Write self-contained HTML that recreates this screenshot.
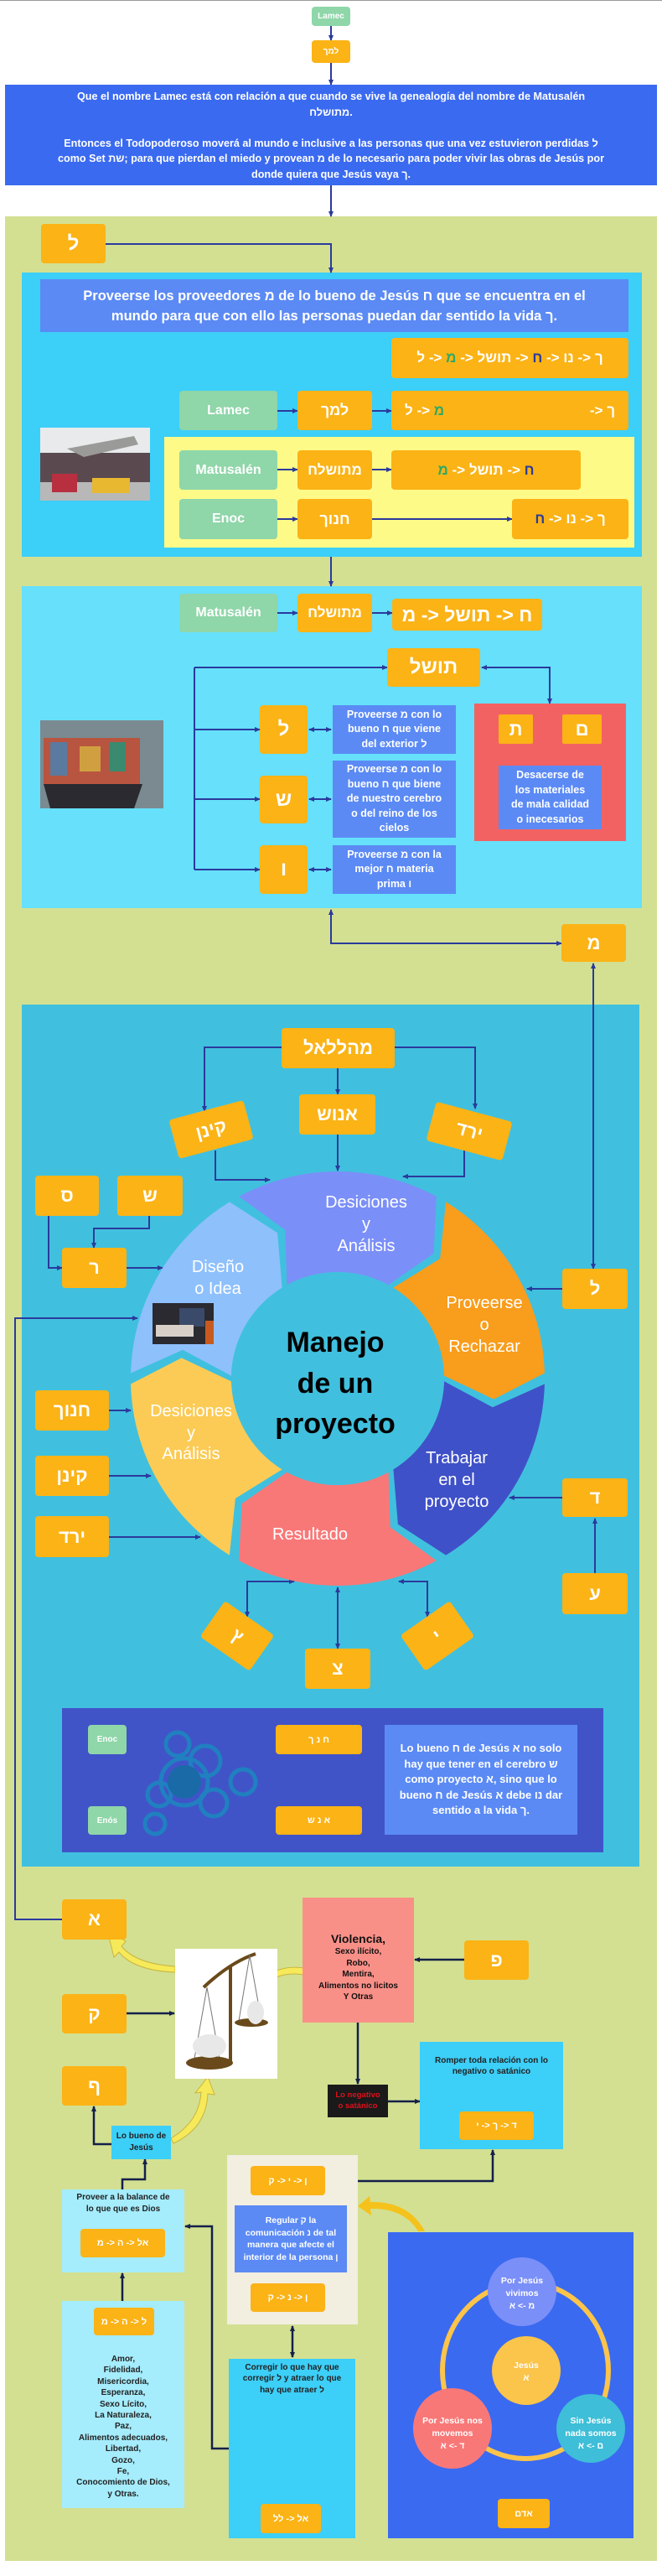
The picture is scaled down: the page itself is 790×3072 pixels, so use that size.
<!DOCTYPE html>
<html><head><meta charset="utf-8">
<style>
*{margin:0;padding:0;box-sizing:border-box}
body{width:790px;height:3072px;position:relative;background:#fff;font-family:"Liberation Sans","DejaVu Sans",sans-serif;overflow:hidden}
.a{position:absolute}
.o{position:absolute;background:#fbb316;border-radius:4px;color:#fff;font-weight:bold;display:flex;align-items:center;justify-content:center;text-align:center;white-space:nowrap}
.g{position:absolute;background:#8fd6a9;border-radius:4px;color:#fff;font-weight:bold;display:flex;align-items:center;justify-content:center}
.b{position:absolute;background:#5b8af5;color:#fff;font-weight:bold;display:flex;align-items:center;justify-content:center;text-align:center}
.h{display:inline-block}
.gm{color:#2fa866}
.dh{color:#2c3a9a}
svg{position:absolute;left:0;top:0}
</style></head><body>
<div class="a" style="left:0;top:0;width:790px;height:1px;background:#999"></div>
<div class="a" style="left:6px;top:258px;width:778px;height:2796px;background:#d3e092"></div>
<div class="a" style="left:26px;top:325px;width:740px;height:339px;background:#3ccff8"></div>
<div class="a" style="left:196px;top:521px;width:561px;height:132px;background:#fdfa88"></div>
<div class="a" style="left:26px;top:699px;width:740px;height:384px;background:#66e0fb"></div>
<div class="a" style="left:26px;top:1198px;width:737px;height:1028px;background:#40c0de"></div>
<div class="a" style="left:74px;top:2037px;width:646px;height:172px;background:#4054c8"></div>

<svg width="790" height="3072" viewBox="0 0 790 3072">
<defs>
<marker id="m" markerWidth="8" markerHeight="8" refX="6" refY="4" orient="auto-start-reverse" markerUnits="userSpaceOnUse"><path d="M0,1 L7,4 L0,7 Z" fill="#2b3a9c"/></marker>
<marker id="n" markerWidth="8" markerHeight="8" refX="6" refY="4" orient="auto-start-reverse" markerUnits="userSpaceOnUse"><path d="M0,1 L7,4 L0,7 Z" fill="#14204a"/></marker>
</defs>
<g fill="none" stroke="#2b3a9c" stroke-width="2">
<path d="M395,31V48" marker-end="url(#m)"/>
<path d="M395,75V101" marker-end="url(#m)"/>
<path d="M395,221V258" marker-end="url(#m)"/>
<path d="M126,291H395V325" marker-end="url(#m)"/>
<path d="M331,490H355" marker-end="url(#m)"/>
<path d="M444,490H467" marker-end="url(#m)"/>
<path d="M331,560H355" marker-end="url(#m)"/>
<path d="M444,560H467" marker-end="url(#m)"/>
<path d="M331,619H355" marker-end="url(#m)"/>
<path d="M444,619H611" marker-end="url(#m)"/>
<path d="M395,664V699" marker-end="url(#m)"/>
<path d="M331,731H355" marker-end="url(#m)"/>
<path d="M444,731H468" marker-end="url(#m)"/>
<path d="M232,796V1037"/>
<path d="M232,796H462" marker-end="url(#m)"/>
<path d="M232,870H310" marker-end="url(#m)"/>
<path d="M232,953H310" marker-end="url(#m)"/>
<path d="M232,1037H310" marker-end="url(#m)"/>
<path d="M369,870H395" marker-start="url(#m)" marker-end="url(#m)"/>
<path d="M369,953H395" marker-start="url(#m)" marker-end="url(#m)"/>
<path d="M369,1037H395" marker-start="url(#m)" marker-end="url(#m)"/>
<path d="M575,796H656V839" marker-start="url(#m)" marker-end="url(#m)"/>
<path d="M638,870H669" marker-start="url(#m)" marker-end="url(#m)"/>
<path d="M694,889V911" marker-start="url(#m)" marker-end="url(#m)"/>
<path d="M395,1085V1125H670" marker-start="url(#m)" marker-end="url(#m)"/>
<path d="M708,1149V1513" marker-start="url(#m)" marker-end="url(#m)"/>
<path d="M336,1249H244V1325" marker-end="url(#m)"/>
<path d="M471,1249H567V1322" marker-end="url(#m)"/>
<path d="M403,1274V1305" marker-end="url(#m)"/>
<path d="M403,1353V1396" marker-end="url(#m)"/>
<path d="M257,1372V1407H322" marker-end="url(#m)"/>
<path d="M554,1372V1403H481" marker-end="url(#m)"/>
<path d="M58,1450V1512H74" marker-end="url(#m)"/>
<path d="M178,1450V1465H112V1488" marker-end="url(#m)"/>
<path d="M151,1512H194" marker-end="url(#m)"/>
<path d="M629,1537H671" marker-start="url(#m)"/>
<path d="M74,2289H18V1572H164" marker-end="url(#m)"/>
<path d="M130,1682H156" marker-end="url(#m)"/>
<path d="M130,1760H180" marker-end="url(#m)"/>
<path d="M130,1833H239" marker-end="url(#m)"/>
<path d="M671,1786H608" marker-end="url(#m)"/>
<path d="M710,1876V1811" marker-end="url(#m)"/>
<path d="M403,1893V1966" marker-start="url(#m)" marker-end="url(#m)"/>
<path d="M351,1886H295V1928" marker-start="url(#m)" marker-end="url(#m)"/>
<path d="M476,1886H510V1928" marker-start="url(#m)" marker-end="url(#m)"/>
</g>
<g fill="none" stroke="#14204a" stroke-width="2.5">
<path d="M554,2337H495" marker-end="url(#n)"/>
<path d="M151,2401H208" marker-end="url(#n)"/>
<path d="M427,2412V2485" marker-end="url(#n)"/>
<path d="M463,2506H501" marker-end="url(#n)"/>
<path d="M133,2557H112V2512" marker-end="url(#n)"/>
<path d="M146,2611V2599H173V2575" marker-end="url(#n)"/>
<path d="M146,2744V2711" marker-end="url(#n)"/>
<path d="M273,2920H253V2655H221" marker-end="url(#n)"/>
<path d="M349,2774V2811" marker-start="url(#n)" marker-end="url(#n)"/>
<path d="M388,2601H588V2564" marker-end="url(#n)"/>
</g>
<g fill="#f7ea5a" stroke="#c8b440" stroke-width="1">
<path d="M209,2352 Q160,2350 142,2328 L136,2334 L128,2302 L150,2315 L145,2321 Q162,2342 209,2345 Z"/>
<path d="M363,2355 Q330,2350 315,2370 L322,2374 L303,2384 L306,2362 L311,2366 Q328,2342 363,2347 Z"/>
<path d="M204,2550 Q238,2530 240,2495 L233,2496 L248,2477 L256,2498 L248,2497 Q246,2538 207,2556 Z"/>
</g>
<path d="M499,2661 Q482,2633 442,2634 L443,2642 L427,2631 L441,2619 L442,2626 Q488,2625 507,2661 Z" fill="#f5c21c"/>
<g transform="translate(403,1644)">
<g transform="rotate(-120)"><path d="M246.9,6.5 A247,247 0 0 1 129.1,210.6 L71.9,173.7 L66.4,108.3 A127,127 0 0 0 127,3.3 L184.9,34.3 Z" fill="#7b8ff8"/></g>
<g transform="rotate(-60)"><path d="M246.9,6.5 A247,247 0 0 1 129.1,210.6 L71.9,173.7 L66.4,108.3 A127,127 0 0 0 127,3.3 L184.9,34.3 Z" fill="#f89d1c"/></g>
<g transform="rotate(0)"><path d="M246.9,6.5 A247,247 0 0 1 129.1,210.6 L71.9,173.7 L66.4,108.3 A127,127 0 0 0 127,3.3 L184.9,34.3 Z" fill="#3f51c8"/></g>
<g transform="rotate(60)"><path d="M246.9,6.5 A247,247 0 0 1 129.1,210.6 L71.9,173.7 L66.4,108.3 A127,127 0 0 0 127,3.3 L184.9,34.3 Z" fill="#f87878"/></g>
<g transform="rotate(120)"><path d="M246.9,6.5 A247,247 0 0 1 129.1,210.6 L71.9,173.7 L66.4,108.3 A127,127 0 0 0 127,3.3 L184.9,34.3 Z" fill="#fccb55"/></g>
<g transform="rotate(180)"><path d="M246.9,6.5 A247,247 0 0 1 129.1,210.6 L71.9,173.7 L66.4,108.3 A127,127 0 0 0 127,3.3 L184.9,34.3 Z" fill="#8ec0fc"/></g>
<circle r="127" fill="#40c0de"/>
</g>
<g fill="#fff" font-family="Liberation Sans, sans-serif" font-size="20" text-anchor="middle">
<text x="437" y="1440">Desiciones</text><text x="437" y="1466">y</text><text x="437" y="1492">Análisis</text>
<text x="260" y="1517">Diseño</text><text x="260" y="1543">o Idea</text>
<text x="578" y="1560">Proveerse</text><text x="578" y="1586">o</text><text x="578" y="1612">Rechazar</text>
<text x="545" y="1745">Trabajar</text><text x="545" y="1771">en el</text><text x="545" y="1797">proyecto</text>
<text x="370" y="1836">Resultado</text>
<text x="228" y="1689">Desiciones</text><text x="228" y="1715">y</text><text x="228" y="1740">Análisis</text>
</g>
<g fill="#000" font-family="Liberation Sans, sans-serif" font-size="34" font-weight="bold" text-anchor="middle">
<text x="400" y="1612">Manejo</text><text x="400" y="1661">de un</text><text x="400" y="1709">proyecto</text>
</g>
<rect x="182" y="1554" width="73" height="49" fill="#2a2a30"/>
<rect x="214" y="1560" width="30" height="22" fill="#3a4a6a"/>
<rect x="186" y="1580" width="45" height="14" fill="#d8d0c8"/>
<rect x="245" y="1575" width="10" height="28" fill="#c85a20"/>
<rect x="48" y="510" width="131" height="87" fill="#e8eaec"/>
<rect x="48" y="540" width="131" height="35" fill="#5a4a50"/>
<rect x="48" y="575" width="131" height="22" fill="#b8b8b8"/>
<path d="M80,535 L160,520 L165,530 L100,545 Z" fill="#9a9a98"/>
<rect x="62" y="565" width="30" height="22" fill="#b83040"/>
<rect x="110" y="570" width="45" height="18" fill="#e8b830"/>
<rect x="48" y="859" width="147" height="105" fill="#7a8a90"/>
<rect x="52" y="880" width="115" height="55" fill="#b85540"/>
<rect x="60" y="885" width="20" height="40" fill="#5a7aa0"/>
<rect x="95" y="890" width="25" height="30" fill="#d0a040"/>
<rect x="130" y="885" width="20" height="35" fill="#3a8a70"/>
<path d="M52,935 H170 L160,964 H60 Z" fill="#2a2a30"/>
<g fill="none" stroke="#2080c0" stroke-width="5">
<circle cx="220" cy="2125" r="28"/><circle cx="245" cy="2100" r="18"/><circle cx="212" cy="2080" r="14"/>
<circle cx="255" cy="2150" r="16"/><circle cx="290" cy="2125" r="15"/><circle cx="185" cy="2175" r="12"/><circle cx="190" cy="2140" r="14"/>
</g>
<circle cx="220" cy="2125" r="20" fill="#1a6aa8"/>
<rect x="209" y="2324" width="122" height="155" fill="#fff"/>
<g stroke="#6a4a1a" stroke-width="4" fill="none">
<path d="M275,2345 V2460"/><path d="M243,2370 Q275,2340 305,2330"/>
</g>
<g stroke="#777" stroke-width="1"><path d="M247,2370 L232,2455"/><path d="M247,2370 L262,2455"/><path d="M298,2332 L285,2410"/><path d="M298,2332 L312,2410"/></g>
<ellipse cx="250" cy="2460" rx="28" ry="8" fill="#6a4a1a"/><ellipse cx="300" cy="2412" rx="20" ry="5" fill="#6a4a1a"/>
<ellipse cx="250" cy="2440" rx="20" ry="14" fill="#e8e8e8"/><ellipse cx="305" cy="2400" rx="10" ry="14" fill="#e8e8e8"/>
<g stroke="#4a8ab0" stroke-width="1.5" fill="none">
<path d="M360,2875 Q370,2900 355,2930 Q345,2955 330,2970"/><path d="M375,2880 L365,2945"/><path d="M305,2960 Q315,2945 325,2965"/><path d="M340,2940 Q350,2925 345,2910"/><path d="M320,2950 L310,2975"/>
</g>
</svg>

<div class="g" style="left:372px;top:8px;width:46px;height:23px;font-size:10px">Lamec</div>
<div class="o" style="left:372px;top:48px;width:46px;height:27px;font-size:10px">למך</div>
<div class="a" style="left:6px;top:101px;width:778px;height:120px;background:#3a6af0;color:#fff;font-weight:bold;font-size:12.6px;line-height:18.5px;text-align:center;padding-top:5px">Que el nombre Lamec está con relación a que cuando se vive la genealogía del nombre de Matusalén<br>מתושלח.<br><br>Entonces el Todopoderoso moverá al mundo e inclusive a las personas que una vez estuvieron perdidas ל<br>como Set שת; para que pierdan el miedo y provean מ de lo necesario para poder vivir las obras de Jesús por<br>donde quiera que Jesús vaya ך.</div>

<div class="o" style="left:49px;top:267px;width:77px;height:47px;font-size:24px">ל</div>
<div class="b" style="left:48px;top:333px;width:702px;height:63px;font-size:16.5px;line-height:24px">Proveerse los proveedores מ de lo bueno de Jesús ח que se encuentra en el<br>mundo para que con ello las personas puedan dar sentido la vida ך.</div>
<div class="o" style="left:467px;top:403px;width:283px;height:48px;font-size:17px;direction:ltr"><span><span class="h">ל</span> -&gt; <span class="h gm">מ</span> -&gt; <span class="h">תושל</span> -&gt; <span class="h dh">ח</span> -&gt; <span class="h">נו</span> -&gt; <span class="h">ך</span></span></div>
<div class="g" style="left:214px;top:466px;width:117px;height:47px;font-size:16px">Lamec</div>
<div class="o" style="left:355px;top:466px;width:89px;height:47px;font-size:18px">למך</div>
<div class="o" style="left:467px;top:466px;width:283px;height:47px;font-size:17px;justify-content:space-between;padding:0 16px"><span><span class="h">ל</span> -&gt; <span class="h gm">מ</span></span><span>-&gt; <span class="h">ך</span></span></div>
<div class="g" style="left:214px;top:537px;width:117px;height:47px;font-size:16px">Matusalén</div>
<div class="o" style="left:355px;top:537px;width:89px;height:47px;font-size:17px">מתושלח</div>
<div class="o" style="left:467px;top:537px;width:226px;height:47px;font-size:17px"><span><span class="h gm">מ</span> -&gt; <span class="h">תושל</span> -&gt; <span class="h dh">ח</span></span></div>
<div class="g" style="left:214px;top:595px;width:117px;height:48px;font-size:16px">Enoc</div>
<div class="o" style="left:355px;top:595px;width:89px;height:48px;font-size:18px">חנוך</div>
<div class="o" style="left:611px;top:595px;width:139px;height:48px;font-size:17px"><span><span class="h dh">ח</span> -&gt; <span class="h">נו</span> -&gt; <span class="h">ך</span></span></div>

<div class="g" style="left:214px;top:708px;width:117px;height:46px;font-size:16px">Matusalén</div>
<div class="o" style="left:355px;top:708px;width:89px;height:46px;font-size:17px">מתושלח</div>
<div class="o" style="left:468px;top:714px;width:179px;height:38px;font-size:23px"><span><span class="h">מ</span> -&gt; <span class="h">תושל</span> -&gt; <span class="h">ח</span></span></div>
<div class="o" style="left:462px;top:773px;width:111px;height:46px;font-size:24px">תושל</div>
<div class="o" style="left:310px;top:841px;width:57px;height:58px;font-size:24px">ל</div>
<div class="o" style="left:310px;top:925px;width:57px;height:57px;font-size:24px">ש</div>
<div class="o" style="left:310px;top:1008px;width:57px;height:58px;font-size:24px">ו</div>
<div class="b" style="left:397px;top:841px;width:147px;height:58px;font-size:12.5px;line-height:17.5px">Proveerse מ con lo<br>bueno ח que viene<br>del exterior ל</div>
<div class="b" style="left:397px;top:907px;width:147px;height:92px;font-size:12.5px;line-height:17.5px">Proveerse מ con lo<br>bueno ח que biene<br>de nuestro cerebro<br>o del reino de los<br>cielos</div>
<div class="b" style="left:397px;top:1008px;width:147px;height:58px;font-size:12.5px;line-height:17.5px">Proveerse מ con la<br>mejor ח materia<br>prima ו</div>
<div class="a" style="left:566px;top:839px;width:181px;height:164px;background:#f26262"></div>
<div class="o" style="left:595px;top:852px;width:41px;height:35px;font-size:22px;border-radius:2px">ת</div>
<div class="o" style="left:671px;top:852px;width:47px;height:35px;font-size:22px;border-radius:2px">ם</div>
<div class="b" style="left:595px;top:913px;width:123px;height:76px;font-size:12.5px;line-height:17.5px">Desacerse de<br>los materiales<br>de mala calidad<br>o inecesarios</div>
<div class="o" style="left:670px;top:1102px;width:77px;height:45px;font-size:22px">מ</div>

<div class="o" style="left:336px;top:1226px;width:135px;height:48px;font-size:22px">מהללאל</div>
<div class="o" style="left:357px;top:1305px;width:91px;height:48px;font-size:22px">אנוש</div>
<div class="o" style="left:206px;top:1323px;width:92px;height:48px;font-size:22px;transform:rotate(-15deg)">קינן</div>
<div class="o" style="left:513px;top:1325px;width:94px;height:48px;font-size:22px;transform:rotate(15deg)">ירד</div>
<div class="o" style="left:42px;top:1402px;width:76px;height:48px;font-size:22px">ס</div>
<div class="o" style="left:140px;top:1402px;width:78px;height:48px;font-size:22px">ש</div>
<div class="o" style="left:74px;top:1488px;width:77px;height:48px;font-size:22px">ר</div>
<div class="o" style="left:671px;top:1513px;width:78px;height:48px;font-size:22px">ל</div>
<div class="o" style="left:42px;top:1658px;width:88px;height:48px;font-size:22px">חנוך</div>
<div class="o" style="left:42px;top:1736px;width:88px;height:48px;font-size:22px">קינן</div>
<div class="o" style="left:42px;top:1808px;width:88px;height:49px;font-size:22px">ירד</div>
<div class="o" style="left:671px;top:1763px;width:78px;height:46px;font-size:22px">ד</div>
<div class="o" style="left:671px;top:1876px;width:78px;height:49px;font-size:22px">ע</div>
<div class="o" style="left:247px;top:1925px;width:72px;height:52px;font-size:22px;transform:rotate(35deg)">ץ</div>
<div class="o" style="left:486px;top:1925px;width:72px;height:52px;font-size:22px;transform:rotate(-35deg)">י</div>
<div class="o" style="left:364px;top:1966px;width:78px;height:48px;font-size:22px">צ</div>

<div class="g" style="left:105px;top:2057px;width:46px;height:35px;font-size:10px">Enoc</div>
<div class="g" style="left:105px;top:2154px;width:46px;height:34px;font-size:10px">Enós</div>
<div class="o" style="left:329px;top:2057px;width:103px;height:35px;font-size:11px">ח נ ך</div>
<div class="o" style="left:329px;top:2154px;width:103px;height:34px;font-size:11px">א נ ש</div>
<div class="b" style="left:459px;top:2057px;width:230px;height:131px;font-size:13px;line-height:18.4px">Lo bueno ח de Jesús א no solo<br>hay que tener en el cerebro ש<br>como proyecto א, sino que lo<br>bueno ח de Jesús א debe נו dar<br>sentido a la vida ך.</div>

<div class="o" style="left:74px;top:2265px;width:77px;height:48px;font-size:22px">א</div>
<div class="o" style="left:74px;top:2378px;width:77px;height:47px;font-size:22px">ק</div>
<div class="o" style="left:74px;top:2464px;width:77px;height:47px;font-size:22px">ף</div>
<div class="a" style="left:361px;top:2263px;width:133px;height:149px;background:#f99088;text-align:center;font-weight:bold;color:#111;padding-top:40px;font-size:10px;line-height:13.4px"><span style="font-size:14px;line-height:18px">Violencia,</span><br>Sexo ilícito,<br>Robo,<br>Mentira,<br>Alimentos no licitos<br>Y Otras</div>
<div class="o" style="left:554px;top:2314px;width:77px;height:47px;font-size:22px">פ</div>
<div class="a" style="left:391px;top:2486px;width:72px;height:39px;background:#1a1a1a;color:#e0101a;font-weight:bold;font-size:9.5px;line-height:13px;text-align:center;padding-top:6px">Lo negativo<br>o satánico</div>
<div class="a" style="left:501px;top:2435px;width:171px;height:128px;background:#3ccff8;color:#222;font-weight:bold;font-size:10px;line-height:13.4px;text-align:center;padding-top:16px">Romper toda relación con lo<br>negativo o satánico</div>
<div class="o" style="left:548px;top:2518px;width:89px;height:34px;font-size:11px"><span><span class="h">י</span> -&gt; <span class="h">ך</span> -&gt; <span class="h">ד</span></span></div>
<div class="a" style="left:133px;top:2535px;width:71px;height:40px;background:#3ccff8;color:#222;font-weight:bold;font-size:10px;line-height:13.5px;text-align:center;padding-top:6px">Lo bueno de<br>Jesús</div>
<div class="a" style="left:74px;top:2611px;width:146px;height:99px;background:#a5ecfc;color:#222;font-weight:bold;font-size:10px;line-height:13.5px;text-align:center;padding-top:3px">Proveer a la balance de<br>lo que que es Dios</div>
<div class="o" style="left:96px;top:2658px;width:101px;height:34px;font-size:11px"><span><span class="h">מ</span> -&gt; <span class="h">ה</span> -&gt; <span class="h">אל</span></span></div>
<div class="a" style="left:74px;top:2744px;width:146px;height:247px;background:#a5ecfc;color:#222;font-weight:bold;font-size:10px;line-height:13.4px;text-align:center;padding-top:63px">Amor,<br>Fidelidad,<br>Misericordia,<br>Esperanza,<br>Sexo Lícito,<br>La Naturaleza,<br>Paz,<br>Alimentos adecuados,<br>Libertad,<br>Gozo,<br>Fe,<br>Conocomiento de Dios,<br>y Otras.</div>
<div class="o" style="left:112px;top:2752px;width:72px;height:33px;font-size:11px"><span><span class="h">מ</span> -&gt; <span class="h">ה</span> -&gt; <span class="h">ל</span></span></div>
<div class="a" style="left:271px;top:2570px;width:156px;height:202px;background:#f2eee0"></div>
<div class="o" style="left:299px;top:2583px;width:89px;height:35px;font-size:11px"><span><span class="h">ק</span> -&gt; <span class="h">י</span> -&gt; <span class="h">ן</span></span></div>
<div class="b" style="left:280px;top:2630px;width:134px;height:80px;font-size:10.5px;line-height:14.5px">Regular ק la<br>comunicación נ de tal<br>manera que afecte el<br>interior de la persona ן</div>
<div class="o" style="left:299px;top:2723px;width:89px;height:34px;font-size:11px"><span><span class="h">ק</span> -&gt; <span class="h">נ</span> -&gt; <span class="h">ן</span></span></div>
<div class="a" style="left:273px;top:2813px;width:151px;height:214px;background:#3ccff8;color:#222;font-weight:bold;font-size:10px;line-height:13.4px;text-align:center;padding-top:4px">Corregir lo que hay que<br>corregir ל y atraer lo que<br>hay que atraer ל</div>
<div class="o" style="left:311px;top:2986px;width:72px;height:35px;font-size:11px"><span><span class="h">לל</span> -&gt; <span class="h">אל</span></span></div>
<div class="a" style="left:463px;top:2662px;width:293px;height:365px;background:#3a6af0"></div>
<svg width="790" height="3072" viewBox="0 0 790 3072" style="pointer-events:none">
<ellipse cx="627" cy="2827" rx="99" ry="105" fill="none" stroke="#fbc44a" stroke-width="6"/>
<circle cx="623" cy="2733" r="41" fill="#7b8ff8"/>
<circle cx="628" cy="2827" r="41" fill="#fbc44a"/>
<ellipse cx="540" cy="2896" rx="47" ry="48" fill="#f87878"/>
<circle cx="705" cy="2896" r="41" fill="#3ebed8"/>
<g fill="#fff" font-family="Liberation Sans, DejaVu Sans, sans-serif" font-size="10.5" font-weight="bold" text-anchor="middle">
<text x="623" y="2723">Por Jesús</text><text x="623" y="2738">vivimos</text><text x="623" y="2753">מ -&gt; א</text>
<text x="628" y="2824">Jesús</text><text x="628" y="2839">א</text>
<text x="540" y="2890">Por Jesús nos</text><text x="540" y="2905">movemos</text><text x="540" y="2920">ד -&gt; א</text>
<text x="705" y="2890">Sin Jesús</text><text x="705" y="2905">nada somos</text><text x="705" y="2920">ם -&gt; א</text>
</g>
</svg>
<div class="o" style="left:594px;top:2980px;width:62px;height:35px;font-size:11px">אדם</div>
</body></html>
